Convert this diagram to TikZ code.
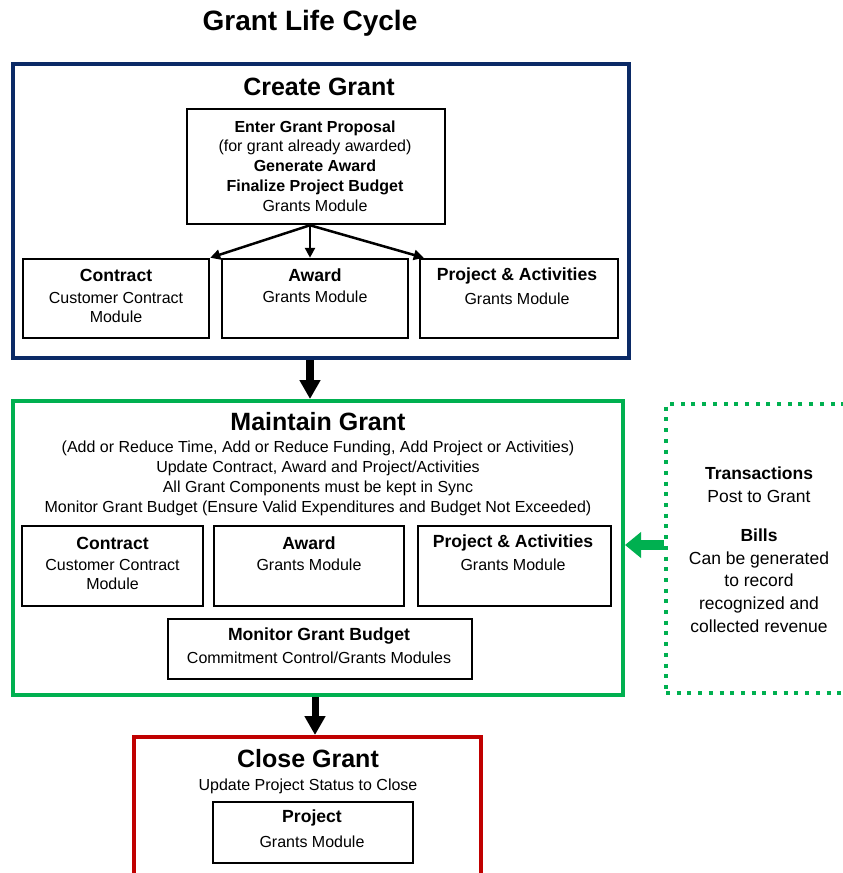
\documentclass[tikz,border=0pt]{standalone}
\usepackage{fontspec}
\setmainfont{Liberation Sans}
\usetikzlibrary{arrows.meta}
\definecolor{navyframe}{HTML}{0B2A66}
\definecolor{greenframe}{HTML}{00B050}
\definecolor{redframe}{HTML}{C00000}
\tikzset{
  frame/.style={draw, line width=4pt, inner sep=0pt},
  stepbox/.style={draw, line width=2.5pt, inner sep=0pt},
  ttl/.style={font=\fontsize{25}{30}\selectfont\bfseries, inner sep=0pt},
  hd/.style={font=\fontsize{17.6}{21}\selectfont\bfseries, inner sep=0pt},
  tx/.style={font=\fontsize{16}{19.8}\selectfont, align=center, inner sep=0pt},
  sidehd/.style={font=\fontsize{17.5}{22.7}\selectfont\bfseries, inner sep=0pt},
  sidetx/.style={font=\fontsize{17.5}{22.7}\selectfont, align=center, inner sep=0pt},
  smallarrow/.style={line width=2.5pt, -{Triangle[length=10pt,width=10pt]}},
  bigarrow/.style={line width=8pt, -{Triangle[length=19pt,width=20pt]}},
  greenarrow/.style={greenframe, line width=10pt, -{Triangle[length=16pt,width=25pt]}}
}
\begin{document}
\begin{tikzpicture}[x=1pt,y=-1pt]
\useasboundingbox (0,0) rectangle (843,873);
\clip (0,0) rectangle (843,873);

\node[font=\fontsize{28}{34}\selectfont\bfseries, inner sep=0pt] (title) at (310,23) {Grant Life Cycle};

% ---------- Create Grant ----------
\node[frame, draw=navyframe, minimum width=616pt, minimum height=294pt] (create) at (321,211) {};
\node[ttl] (createttl) at (319,87) {Create Grant};
\node[stepbox, minimum width=258pt, minimum height=115pt] (topbox) at (316,166.5) {};
\node[tx] (toptx) at (315,166) {\textbf{Enter Grant Proposal}\\(for grant already awarded)\\\textbf{Generate Award}\\\textbf{Finalize Project Budget}\\Grants Module};

\node[stepbox, minimum width=186pt, minimum height=79pt] (con1) at (116,298.5) {};
\node[hd] (con1h) at (116,275) {Contract};
\node[tx] (con1t) at (116,307.5) {Customer Contract\\Module};

\node[stepbox, minimum width=186pt, minimum height=79pt] (awd1) at (315,298.5) {};
\node[hd] (awd1h) at (315,275) {Award};
\node[tx] (awd1t) at (315,297) {Grants Module};

\node[stepbox, minimum width=198pt, minimum height=79pt] (prj1) at (519,298.5) {};
\node[hd] (prj1h) at (517,276) {Project \& Activities};
\node[tx] (prj1t) at (517,299) {Grants Module};

\coordinate (fork) at ([xshift=-6pt]topbox.south);
\draw[smallarrow] (fork) -- (con1.north east);
\draw[smallarrow] (fork) -- (fork |- awd1.north);
\draw[smallarrow] (fork) -- ([xshift=5pt]prj1.north west);

% ---------- Maintain Grant ----------
\node[frame, draw=greenframe, minimum width=610pt, minimum height=294pt] (maintain) at (318,548) {};
\node[ttl] (maintainttl) at (318,422) {Maintain Grant};
\node[tx] (maintaintx) at (318,478.5) {(Add or Reduce Time, Add or Reduce Funding, Add Project or Activities)\\Update Contract, Award and Project/Activities\\All Grant Components must be kept in Sync\\Monitor Grant Budget (Ensure Valid Expenditures and Budget Not Exceeded)};

\node[stepbox, minimum width=181pt, minimum height=80pt] (con2) at (112.5,566) {};
\node[hd] (con2h) at (112.5,543) {Contract};
\node[tx] (con2t) at (112.5,574.5) {Customer Contract\\Module};

\node[stepbox, minimum width=190pt, minimum height=80pt] (awd2) at (309,566) {};
\node[hd] (awd2h) at (309,543) {Award};
\node[tx] (awd2t) at (309,565) {Grants Module};

\node[stepbox, minimum width=193pt, minimum height=80pt] (prj2) at (514.5,566) {};
\node[hd] (prj2h) at (513,543) {Project \& Activities};
\node[tx] (prj2t) at (513,565) {Grants Module};

\node[stepbox, minimum width=304pt, minimum height=60pt] (mon) at (320,649) {};
\node[hd] (monh) at (319,636) {Monitor Grant Budget};
\node[tx] (mont) at (319,658) {Commitment Control/Grants Modules};

% ---------- Side box ----------
\node[frame, draw=greenframe, dash pattern=on 4pt off 6.7pt, minimum width=234pt, minimum height=289pt] (side) at (783,548.5) {};
\node[sidehd] (transh) at (759,473) {Transactions};
\node[sidetx] (transt) at (759,496) {Post to Grant};
\node[sidehd] (billsh) at (759,535) {Bills};
\node[sidetx] (billst) at (759,592) {Can be generated\\to record\\recognized and\\collected revenue};

% ---------- Close Grant ----------
\node[frame, draw=redframe, minimum width=347pt, minimum height=200pt] (close) at (307.5,837) {};
\node[ttl] (closettl) at (308,759) {Close Grant};
\node[tx] (closetx) at (308,786) {Update Project Status to Close};
\node[stepbox, minimum width=200pt, minimum height=61pt] (prj3) at (313,832.5) {};
\node[hd] (prj3h) at (312,818) {Project};
\node[tx] (prj3t) at (312,842) {Grants Module};

% ---------- Flow arrows ----------
\draw[bigarrow] ([xshift=-11pt]create.south) -- ([xshift=-8pt]maintain.north);
\draw[bigarrow, line width=7pt] ([xshift=-3pt]maintain.south) -- ([xshift=7.5pt]close.north);
\draw[greenarrow] ([yshift=3.5pt]side.west) -- ([yshift=3.5pt]side.west -| maintain.east);
\end{tikzpicture}
\end{document}
